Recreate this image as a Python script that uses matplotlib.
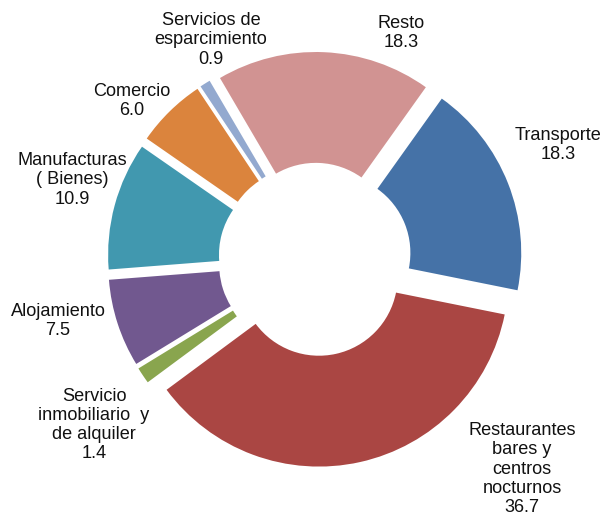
import matplotlib.pyplot as plt

plt.rcParams['font.family'] = ['Liberation Sans', 'DejaVu Sans']

sectores = ['Transporte', 'Restaurantes\nbares y\ncentros\nnocturnos', 'Servicio\ninmobiliario  y\nde alquiler',
            'Alojamiento', 'Manufacturas\n( Bienes)', 'Comercio', 'Servicios de\nesparcimiento', 'Resto']
valores = [18.3, 36.7, 1.4, 7.5, 10.9, 6.0, 0.9, 18.3]
colores = ['#4572A7', '#AA4643', '#89A54E', '#71588F', '#4198AF', '#DB843D', '#93A9CF', '#D19392']

# label centres in image pixels (x, y from top-left)
pos_etiquetas = [(558, 145), (522, 469), (94, 425), (58, 321), (72, 180), (132, 101), (211, 40), (401, 33)]

W, H = 608, 516
cx, cy, R = 315, 259.5, 189.5  # centre and outer radius in pixels

fig = plt.figure(figsize=(W / 100, H / 100), dpi=100)
ax = fig.add_axes([0, 0, 1, 1])
ax.pie(valores, colors=colores, startangle=54.5, counterclock=False, radius=1,
       explode=[0.095] * len(valores), wedgeprops=dict(width=0.585, linewidth=0))
ax.set_xlim(-cx / R, (W - cx) / R)
ax.set_ylim(-(H - cy) / R, cy / R)
ax.set_aspect('equal', adjustable='box')
ax.axis('off')

for nombre, v, (px, py) in zip(sectores, valores, pos_etiquetas):
    ax.text((px - cx) / R, (cy - py) / R, '%s\n%.1f' % (nombre, v), ha='center', va='center',
            fontsize=13.1, linespacing=1.17, color='#111111')

plt.savefig('out.png', dpi=100)
plt.close()
